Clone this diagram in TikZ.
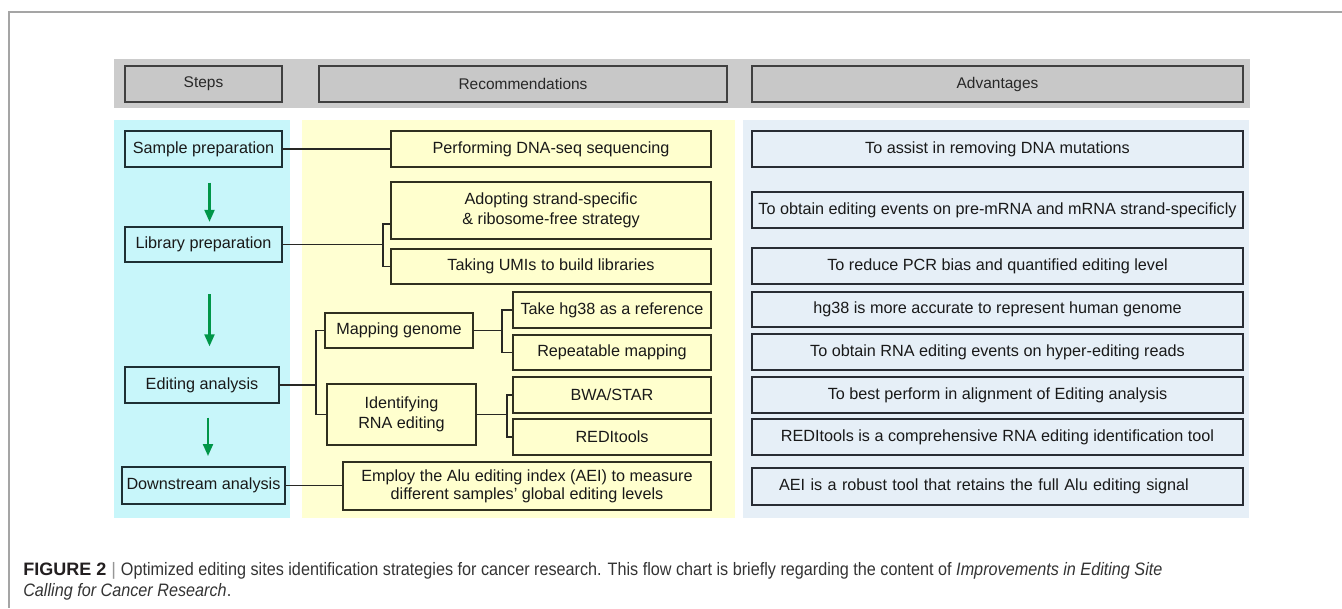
\documentclass[tikz,border=0pt]{standalone}
\usepackage{fontspec}
\setmainfont{Liberation Sans}
\newfontfamily\capfont[FakeStretch=0.9]{Liberation Sans}
\usetikzlibrary{arrows.meta}

\begin{document}
\begin{tikzpicture}[x=0.75pt,y=0.75pt,yscale=-1,xscale=1,
	headbox/.style={draw={rgb, 255:red, 64; green, 64; blue, 64}, line width=1.5pt, fill={rgb, 255:red, 200; green, 200; blue, 200}, minimum height=27pt, inner sep=1pt, text={rgb, 255:red, 40; green, 40; blue, 40}, font=\fontsize{11.6}{14}\selectfont},
	stepbox/.style={draw={rgb, 255:red, 30; green, 48; blue, 52}, line width=1.5pt, fill={rgb, 255:red, 200; green, 246; blue, 250}, minimum width=117.75pt, minimum height=26.5pt, inner xsep=1.5pt, inner ysep=1pt, text={rgb, 255:red, 25; green, 25; blue, 25}, font=\fontsize{12.15}{15}\selectfont},
	recbox/.style={draw={rgb, 255:red, 48; green, 48; blue, 32}, line width=1.5pt, fill={rgb, 255:red, 255; green, 255; blue, 206}, minimum height=26.5pt, inner xsep=1.5pt, inner ysep=1pt, align=center, text={rgb, 255:red, 25; green, 25; blue, 25}, font=\fontsize{12.15}{15}\selectfont},
	advbox/.style={draw={rgb, 255:red, 40; green, 44; blue, 52}, line width=1.5pt, fill={rgb, 255:red, 230; green, 239; blue, 247}, minimum width=368.25pt, minimum height=26.5pt, inner xsep=1.5pt, inner ysep=1pt, text={rgb, 255:red, 25; green, 25; blue, 25}, font=\fontsize{12.15}{15}\selectfont},
	link/.style={draw={rgb, 255:red, 40; green, 40; blue, 36}, line width=1.3pt},
	flowarrow/.style={draw={rgb, 255:red, 0; green, 150; blue, 72}, line width=1.6pt, -{Triangle[length=9pt, width=7.5pt]}}]
	\useasboundingbox (0,0) rectangle (1342,608);
	%Frame
	\draw [color={rgb, 255:red, 165; green, 165; blue, 165}, line width=0.9pt] (1342,12) -- (9,12) -- (9,608);
	%Shape: Rectangle (header band)
	\fill [fill={rgb, 255:red, 204; green, 204; blue, 204}] (114,59) rectangle (1250,108);
	%Shape: Rectangle (columns)
	\fill [fill={rgb, 255:red, 200; green, 246; blue, 250}] (114,120) rectangle (290,518);
	\fill [fill={rgb, 255:red, 255; green, 255; blue, 210}] (302,120) rectangle (735,518);
	\fill [fill={rgb, 255:red, 230; green, 239; blue, 247}] (743,120) rectangle (1249,518);

	\node [headbox, minimum width=117.75pt] (hsteps) at (203.5,84) {Steps};
	\node [headbox, minimum width=306pt] (hrec) at (523,84) {Recommendations};
	\node [headbox, minimum width=368.25pt] (hadv) at (997.5,84) {Advantages};

	\node [stepbox] (sample) at (203.5,149) {Sample preparation};
	\node [stepbox] (lib) at (203.5,244.5) {Library preparation};
	\node [stepbox, minimum width=115.5pt] (edit) at (202,385) {Editing analysis};
	\node [stepbox, minimum width=122.25pt, minimum height=27.75pt] (down) at (203.5,485.5) {Downstream analysis};

	\node [recbox, minimum width=240pt] (perform) at (551,149) {Performing DNA-seq sequencing};
	\node [recbox, minimum width=240pt, minimum height=42.75pt] (adopt) at (551,210.5) {Adopting strand-specific\\\& ribosome-free strategy};
	\node [recbox, minimum width=240pt] (umi) at (551,266.5) {Taking UMIs to build libraries};
	\node [recbox, minimum width=111pt] (map) at (399,330.5) {Mapping genome};
	\node [recbox, minimum width=148.5pt] (hgref) at (612,310) {Take hg38 as a reference};
	\node [recbox, minimum width=148.5pt] (repmap) at (612,352.5) {Repeatable mapping};
	\node [recbox, minimum width=111.75pt, minimum height=45.75pt] (ident) at (401.5,414.5) {Identifying\\RNA editing};
	\node [recbox, minimum width=148.5pt] (bwa) at (612,395) {BWA/STAR};
	\node [recbox, minimum width=148.5pt] (redi) at (612,437) {REDItools};
	\node [recbox, minimum width=276pt, minimum height=36pt, font=\fontsize{12.15}{13.5}\selectfont] (employ) at (527,486) {Employ the Alu editing index (AEI) to measure\\different samples' global editing levels};

	\node [advbox] (adv1) at (997.5,149) {To assist in removing DNA mutations};
	\node [advbox] (adv2) at (997.5,210) {To obtain editing events on pre-mRNA and mRNA strand-specificly};
	\node [advbox] (adv3) at (997.5,266) {To reduce PCR bias and quantified editing level};
	\node [advbox] (adv4) at (997.5,309.5) {hg38 is more accurate to represent human genome};
	\node [advbox] (adv5) at (997.5,352) {To obtain RNA editing events on hyper-editing reads};
	\node [advbox] (adv6) at (997.5,395) {To best perform in alignment of Editing analysis};
	\node [advbox] (adv7) at (997.5,437) {REDItools is a comprehensive RNA editing identification tool};
	\node [advbox, minimum height=27.75pt, text width=327.75pt, inner xsep=20.25pt, align=left] (adv8) at (997.5,486.5) {AEI is a robust tool that retains the full Alu editing signal};

	%Connectors
	\coordinate (libtop) at (383,224);
	\coordinate (libfork) at (383,244.5);
	\coordinate (editfork) at (316,385);
	\coordinate (mapfork) at (502,330.5);
	\coordinate (identfork) at (507,414.5);
	\draw [link] (sample.east) -- (perform.west);
	\draw [link] (lib.east) -- (libfork);
	\draw [link] (adopt.west |- libtop) -| (libfork) |- (umi.west);
	\draw [link] (edit.east) -- (editfork);
	\draw [link] (map.west) -| (editfork) |- (ident.west);
	\draw [link] (map.east) -- (mapfork);
	\draw [link] (hgref.west) -| (mapfork) |- (repmap.west);
	\draw [link] (ident.east) -- (identfork);
	\draw [link] (bwa.west) -| (identfork) |- (redi.west);
	\draw [link] (down.east) -- (down.east -| employ.west);

	\draw [flowarrow, shorten <=11.25pt, shorten >=3pt] ([xshift=4.5pt]sample.south) -- ([xshift=4.5pt]sample.south |- lib.north);
	\draw [flowarrow, shorten <=23.25pt, shorten >=15pt] ([xshift=4.5pt]lib.south) -- ([xshift=4.5pt]lib.south |- edit.north);
	\draw [flowarrow, shorten <=10.5pt, shorten >=7.5pt] ([xshift=4.5pt]edit.south) -- ([xshift=4.5pt]edit.south |- down.north);

	%Caption
	\node [anchor=base west, inner sep=0pt, font=\fontsize{13.5}{16}\selectfont, text={rgb, 255:red, 51; green, 51; blue, 51}] (cap1) at (23,575) {{\color[RGB]{35,31,32}\textbf{FIGURE 2}} {\color[RGB]{150,150,150}|} {\capfont Optimized editing sites identification strategies for cancer research. This flow chart is briefly regarding the content of \textit{Improvements in Editing Site}}};
	\node [anchor=base west, inner sep=0pt, font=\fontsize{13.5}{16}\selectfont, text={rgb, 255:red, 51; green, 51; blue, 51}] (cap2) at (23,596) {{\capfont\textit{Calling for Cancer Research}.}};
\end{tikzpicture}
\end{document}
